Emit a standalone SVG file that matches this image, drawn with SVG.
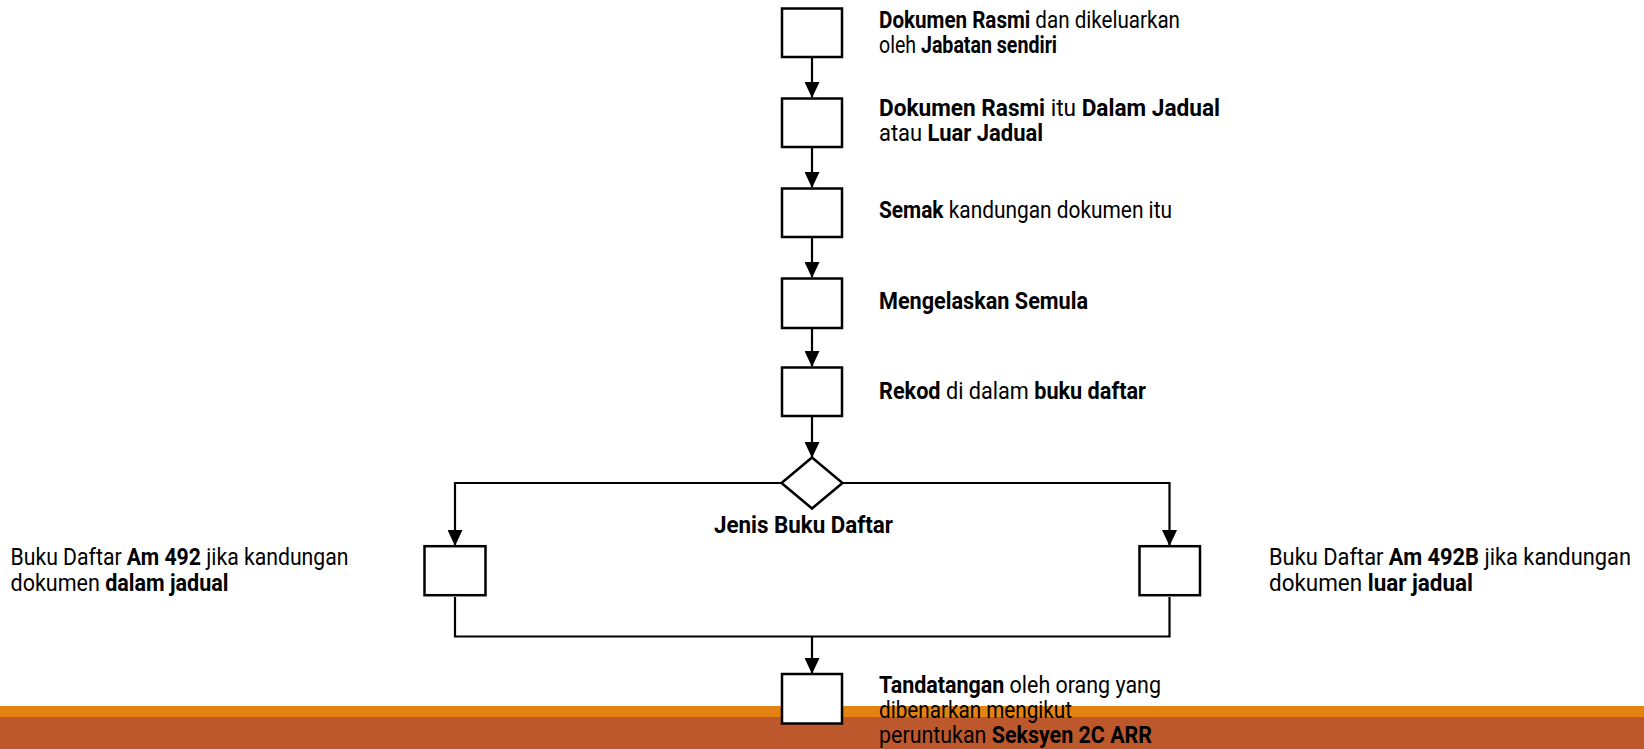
<svg xmlns="http://www.w3.org/2000/svg" width="1644" height="749" viewBox="0 0 1644 749">
<defs>
<style>
.box{fill:#fff;stroke:#000;stroke-width:2.5}
.ln{fill:none;stroke:#000;stroke-width:2.2}
.t{font-family:Roboto,"Liberation Sans",sans-serif;font-size:24px;fill:#000}
.b{font-weight:700}
</style>
<marker id="ah" markerUnits="userSpaceOnUse" markerWidth="16" markerHeight="15" refX="15" refY="7.5" orient="auto" viewBox="0 0 16 15">
<path d="M0,0 L16,7.5 L0,15 z" fill="#000"/>
</marker>
</defs>
<rect x="0" y="0" width="1644" height="749" fill="#fff"/>
<g id="band">
<rect x="0" y="706" width="1644" height="11" fill="#E48312"/>
<rect x="0" y="717" width="1644" height="32" fill="#BD582C"/>
</g>
<g id="connectors">
<line class="ln" x1="812" y1="58" x2="812" y2="97" marker-end="url(#ah)"/>
<line class="ln" x1="812" y1="148" x2="812" y2="187" marker-end="url(#ah)"/>
<line class="ln" x1="812" y1="238" x2="812" y2="277" marker-end="url(#ah)"/>
<line class="ln" x1="812" y1="328" x2="812" y2="366" marker-end="url(#ah)"/>
<line class="ln" x1="812" y1="417" x2="812" y2="457" marker-end="url(#ah)"/>
<polyline class="ln" points="781.5,483 455,483 455,545" marker-end="url(#ah)"/>
<polyline class="ln" points="842.5,483 1169.5,483 1169.5,545" marker-end="url(#ah)"/>
<polyline class="ln" points="455,597 455,636.5 1169.5,636.5 1169.5,597"/>
<line class="ln" x1="812" y1="636.5" x2="812" y2="673" marker-end="url(#ah)"/>
</g>
<g id="n1"><rect class="box" x="782" y="8.5" width="60" height="48.5"/>
<text class="t" x="879" y="27.5" textLength="301" lengthAdjust="spacingAndGlyphs"><tspan class="b">Dokumen Rasmi</tspan> dan dikeluarkan</text>
<text class="t" x="879" y="52.5" textLength="178" lengthAdjust="spacingAndGlyphs">oleh <tspan class="b">Jabatan sendiri</tspan></text></g>
<g id="n2"><rect class="box" x="782" y="98.5" width="60" height="48.5"/>
<text class="t" x="879" y="115.5" textLength="341" lengthAdjust="spacingAndGlyphs"><tspan class="b">Dokumen Rasmi</tspan> itu <tspan class="b">Dalam Jadual</tspan></text>
<text class="t" x="879" y="141" textLength="164" lengthAdjust="spacingAndGlyphs">atau <tspan class="b">Luar Jadual</tspan></text></g>
<g id="n3"><rect class="box" x="782" y="188.5" width="60" height="48.5"/>
<text class="t" x="879" y="218" textLength="293" lengthAdjust="spacingAndGlyphs"><tspan class="b">Semak</tspan> kandungan dokumen itu</text></g>
<g id="n4"><rect class="box" x="782" y="278.5" width="60" height="49.5"/>
<text class="t" x="879" y="308.5" textLength="209" lengthAdjust="spacingAndGlyphs"><tspan class="b">Mengelaskan Semula</tspan></text></g>
<g id="n5"><rect class="box" x="782" y="367.5" width="60" height="48.5"/>
<text class="t" x="879" y="398.5" textLength="267" lengthAdjust="spacingAndGlyphs"><tspan class="b">Rekod</tspan> di dalam <tspan class="b">buku daftar</tspan></text></g>
<g id="d1"><polygon class="box" points="812,457.5 842.5,483 812,508.5 781.5,483"/>
<text class="t b" x="714" y="532.5" textLength="179" lengthAdjust="spacingAndGlyphs">Jenis Buku Daftar</text></g>
<g id="nL"><rect class="box" x="424.5" y="546.2" width="61" height="49"/>
<text class="t" x="10.5" y="564.5" textLength="338" lengthAdjust="spacingAndGlyphs">Buku Daftar <tspan class="b">Am 492</tspan> jika kandungan</text>
<text class="t" x="10.5" y="591" textLength="218" lengthAdjust="spacingAndGlyphs">dokumen <tspan class="b">dalam jadual</tspan></text></g>
<g id="nR"><rect class="box" x="1139.5" y="546.2" width="60.5" height="49"/>
<text class="t" x="1269" y="564.5" textLength="362" lengthAdjust="spacingAndGlyphs">Buku Daftar <tspan class="b">Am 492B</tspan> jika kandungan</text>
<text class="t" x="1269" y="591" textLength="204" lengthAdjust="spacingAndGlyphs">dokumen <tspan class="b">luar jadual</tspan></text></g>
<g id="n6"><rect class="box" x="782" y="674" width="60" height="49.5"/>
<text class="t" x="879" y="692.5" textLength="282" lengthAdjust="spacingAndGlyphs"><tspan class="b">Tandatangan</tspan> oleh orang yang</text>
<text class="t" x="879" y="717.5" textLength="193" lengthAdjust="spacingAndGlyphs">dibenarkan mengikut</text>
<text class="t" x="879" y="742.5" textLength="273" lengthAdjust="spacingAndGlyphs">peruntukan <tspan class="b">Seksyen 2C ARR</tspan></text></g>
</svg>
